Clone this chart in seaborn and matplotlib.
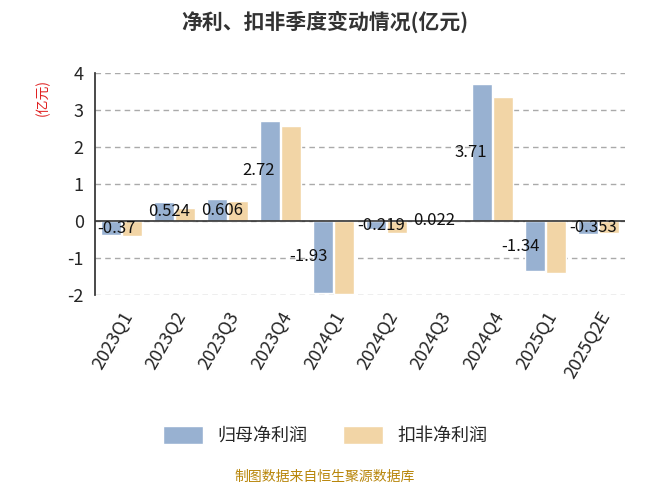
import matplotlib
matplotlib.use("Agg")
import matplotlib.pyplot as plt
import seaborn as sns
import pandas as pd
import numpy as np

quarters = ["2023Q1","2023Q2","2023Q3","2023Q4","2024Q1","2024Q2","2024Q3","2024Q4","2025Q1","2025Q2E"]
net_profit = [-0.37, 0.524, 0.606, 2.72, -1.93, -0.219, 0.022, 3.71, -1.34, -0.353]
net_deducted = [-0.40, 0.36, 0.55, 2.57, -1.97, -0.33, 0.02, 3.36, -1.40, -0.33]
labels = ["-0.37","0.524","0.606","2.72","-1.93","-0.219","0.022","3.71","-1.34","-0.353"]
s1, s2 = "归母净利润", "扣非净利润"

sns.set_theme(style="white")
plt.rcParams['font.family'] = ['Noto Sans CJK SC', 'DejaVu Sans']
plt.rcParams['axes.unicode_minus'] = False

df = pd.DataFrame({"q": quarters*2, "v": net_profit+net_deducted,
                   "s": [s1]*10+[s2]*10})
fig = plt.figure(figsize=(6.5,4.88), dpi=100)
ax = fig.add_axes([0.146, 0.395, 0.815, 0.455])
sns.barplot(data=df, x="q", y="v", hue="s", palette=["#8eb0db","#ffd899"],
            ax=ax, width=0.8, gap=0.05, legend=True)
ax.set_ylim(-2, 4)
ax.set_yticks(range(-2,5))
ax.tick_params(axis='y', labelsize=13, length=0, pad=8)
ax.tick_params(axis='x', labelsize=13, rotation=60)
for t in ax.get_xticklabels():
    t.set_ha('right'); t.set_rotation_mode('anchor')
ax.set_xlabel(""); ax.set_ylabel("")
for y in range(-2,5):
    ax.axhline(y, color="#aaaaaa", ls=(0,(4,3)), lw=1, zorder=0)
ax.axhline(0, color="#333333", lw=1.2, zorder=3)
for s in ["top","right","bottom"]:
    ax.spines[s].set_visible(False)
ax.spines["left"].set_color("#333333")
ax.set_xlim(-0.5, 9.5)
for i, (v, l) in enumerate(zip(net_profit, labels)):
    ax.text(i-0.1, v/2, l, ha='right' if abs(v) > 1 else 'center', va='center', fontsize=12, color="#111111", zorder=5)
ax.legend_.remove()
h, lb = ax.get_legend_handles_labels()
fig.legend(h, lb, loc='center', bbox_to_anchor=(0.5, 0.108), ncol=2, frameon=False,
           fontsize=13, handlelength=2.2, handleheight=1.2, columnspacing=2)
fig.text(0.5, 0.955, "净利、扣非季度变动情况(亿元)", ha='center', va='center', fontsize=15, fontweight='bold', color="#333333")
fig.text(0.065, 0.80, "(亿元)", rotation=90, ha='center', va='center', fontsize=10, color="#e02020")
fig.text(0.5, 0.022, "制图数据来自恒生聚源数据库", ha='center', va='center', fontsize=10, color="#b8860b")
fig.savefig("out.png", dpi=100)
